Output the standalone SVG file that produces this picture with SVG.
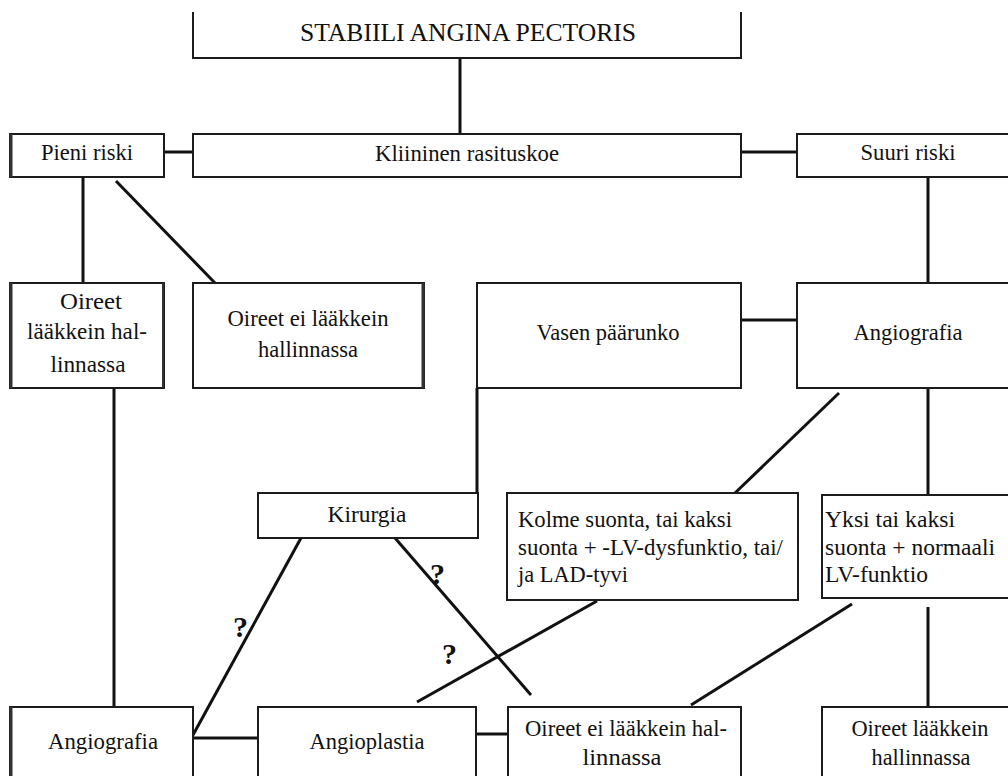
<svg xmlns="http://www.w3.org/2000/svg" width="1008" height="776" viewBox="0 0 1008 776">
<style>
.box{fill:#fff;stroke:#1c1c1c;stroke-width:2}
.ln{stroke:#111;stroke-width:3;fill:none;stroke-linecap:butt}
</style>
<rect width="1008" height="776" fill="#fff"/>
<g id="connectors">
<line class="ln" x1="460" y1="58" x2="460" y2="134"/>
<line class="ln" x1="164" y1="152" x2="193" y2="152" stroke-width="4"/>
<line class="ln" x1="741" y1="152" x2="797" y2="152" stroke-width="4"/>
<line class="ln" x1="83" y1="177" x2="83" y2="283"/>
<line class="ln" x1="116" y1="181" x2="215" y2="283"/>
<line class="ln" x1="928" y1="177" x2="928" y2="283"/>
<line class="ln" x1="741" y1="320" x2="797" y2="320" stroke-width="4"/>
<line class="ln" x1="114" y1="388" x2="114" y2="707" stroke-width="4"/>
<line class="ln" x1="477" y1="388" x2="477" y2="493" stroke-width="2"/>
<line class="ln" x1="839" y1="393" x2="735" y2="493"/>
<line class="ln" x1="928" y1="388" x2="928" y2="495"/>
<line class="ln" x1="301" y1="538" x2="193" y2="735"/>
<line class="ln" x1="395" y1="538" x2="531" y2="695"/>
<line class="ln" x1="597" y1="601" x2="417" y2="702"/>
<line class="ln" x1="852" y1="604" x2="691" y2="705"/>
<line class="ln" x1="928" y1="607" x2="928" y2="707"/>
<line class="ln" x1="193" y1="738" x2="258" y2="738"/>
<line class="ln" x1="476" y1="734" x2="508" y2="734"/>
</g>
<g font-family="Liberation Serif, Times New Roman, serif" font-size="24" fill="#111">
<g id="title">
<path d="M193,12 V58 H741 V12" fill="none" stroke="#1c1c1c" stroke-width="2"/>
<text x="468" y="41" text-anchor="middle" font-size="25" textLength="336" lengthAdjust="spacingAndGlyphs">STABIILI ANGINA PECTORIS</text>
</g>
<g id="kliininen">
<rect class="box" x="193" y="134" width="548" height="43"/>
<text x="467" y="161" text-anchor="middle" textLength="184" lengthAdjust="spacingAndGlyphs">Kliininen rasituskoe</text>
</g>
<g id="pieni">
<rect class="box" x="10" y="134" width="154" height="43"/>
<line x1="11" y1="134" x2="11" y2="177" stroke="#333" stroke-width="3"/>
<text x="87" y="160" text-anchor="middle" textLength="92" lengthAdjust="spacingAndGlyphs">Pieni riski</text>
</g>
<g id="suuri">
<rect class="box" x="797" y="134" width="220" height="43"/>
<text x="908" y="160" text-anchor="middle" textLength="95" lengthAdjust="spacingAndGlyphs">Suuri riski</text>
</g>
<g id="oireet1">
<rect class="box" x="10" y="283" width="154" height="105"/>
<line x1="11" y1="283" x2="11" y2="388" stroke="#333" stroke-width="3"/>
<line x1="163" y1="283" x2="163" y2="388" stroke="#333" stroke-width="2"/>
<text x="91" y="309" text-anchor="middle" textLength="62" lengthAdjust="spacingAndGlyphs">Oireet</text>
<text x="87" y="339" text-anchor="middle" textLength="120" lengthAdjust="spacingAndGlyphs">lääkkein hal-</text>
<text x="88" y="372" text-anchor="middle" textLength="75" lengthAdjust="spacingAndGlyphs">linnassa</text>
</g>
<g id="oireet2">
<rect class="box" x="193" y="283" width="231" height="105"/>
<line x1="423" y1="283" x2="423" y2="388" stroke="#333" stroke-width="3"/>
<text x="308" y="326" text-anchor="middle" textLength="161" lengthAdjust="spacingAndGlyphs">Oireet ei lääkkein</text>
<text x="308" y="357" text-anchor="middle" textLength="100" lengthAdjust="spacingAndGlyphs">hallinnassa</text>
</g>
<g id="vasen">
<rect class="box" x="477" y="283" width="264" height="105"/>
<text x="608" y="340" text-anchor="middle" textLength="143" lengthAdjust="spacingAndGlyphs">Vasen päärunko</text>
</g>
<g id="angiografia1">
<rect class="box" x="797" y="283" width="220" height="105"/>
<text x="908" y="340" text-anchor="middle" textLength="109" lengthAdjust="spacingAndGlyphs">Angiografia</text>
</g>
<g id="kirurgia">
<rect class="box" x="258" y="493" width="220" height="45"/>
<text x="367" y="522" text-anchor="middle" textLength="79" lengthAdjust="spacingAndGlyphs">Kirurgia</text>
</g>
<g id="kolme">
<rect class="box" x="507" y="493" width="291" height="107"/>
<text x="518" y="527" textLength="214" lengthAdjust="spacingAndGlyphs">Kolme suonta, tai kaksi</text>
<text x="518" y="555" textLength="265" lengthAdjust="spacingAndGlyphs">suonta + -LV-dysfunktio, tai/</text>
<text x="518" y="582" textLength="110" lengthAdjust="spacingAndGlyphs">ja LAD-tyvi</text>
</g>
<g id="yksi">
<rect class="box" x="822" y="495" width="195" height="103"/>
<text x="825" y="527" textLength="130" lengthAdjust="spacingAndGlyphs">Yksi tai kaksi</text>
<text x="825" y="555" textLength="170" lengthAdjust="spacingAndGlyphs">suonta + normaali</text>
<text x="825" y="582" textLength="103" lengthAdjust="spacingAndGlyphs">LV-funktio</text>
</g>
<g id="questions" font-size="30" font-weight="bold">
<text x="233" y="637">?</text>
<text x="430" y="584">?</text>
<text x="442" y="664">?</text>
</g>
<g id="angiografia2">
<rect class="box" x="10" y="707" width="183" height="90"/>
<line x1="11" y1="707" x2="11" y2="776" stroke="#333" stroke-width="3"/>
<text x="103" y="749" text-anchor="middle" textLength="110" lengthAdjust="spacingAndGlyphs">Angiografia</text>
</g>
<g id="angioplastia">
<rect class="box" x="258" y="707" width="218" height="90"/>
<text x="367" y="749" text-anchor="middle" textLength="115" lengthAdjust="spacingAndGlyphs">Angioplastia</text>
</g>
<g id="oireet3">
<rect class="box" x="508" y="707" width="233" height="90"/>
<text x="626" y="736" text-anchor="middle" textLength="202" lengthAdjust="spacingAndGlyphs">Oireet ei lääkkein hal-</text>
<text x="622" y="765" text-anchor="middle" textLength="79" lengthAdjust="spacingAndGlyphs">linnassa</text>
</g>
<g id="oireet4">
<rect class="box" x="822" y="707" width="195" height="90"/>
<text x="920" y="736" text-anchor="middle" textLength="137" lengthAdjust="spacingAndGlyphs">Oireet lääkkein</text>
<text x="921" y="765" text-anchor="middle" textLength="99" lengthAdjust="spacingAndGlyphs">hallinnassa</text>
</g>
</g>
</svg>
